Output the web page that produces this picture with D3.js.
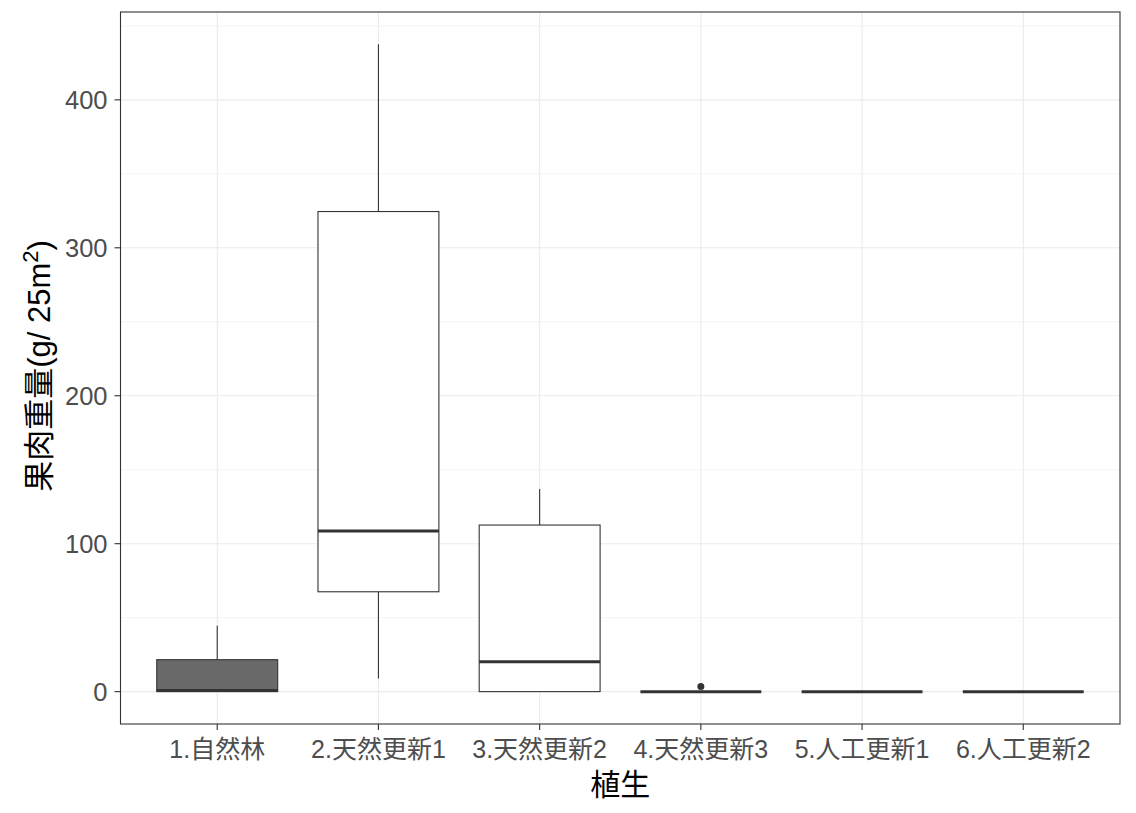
<!DOCTYPE html>
<html><head><meta charset="utf-8">
<script src="https://cdn.jsdelivr.net/npm/d3@7"></script>
<style>
body{margin:0;background:#fff;}
text{font-family:"Liberation Sans","Noto Sans CJK JP",sans-serif;}
</style></head>
<body><svg id="c" width="1136" height="813"></svg>
<script>
const categories = ["1.自然林","2.天然更新1","3.天然更新2","4.天然更新3","5.人工更新1","6.人工更新2"];
const whiskerLow  = [0, 8.8, 0, 0, 0, 0];
const q1          = [0, 67.5, 0, 0, 0, 0];
const median      = [0.7, 108.6, 20.2, 0, 0, 0];
const q3          = [21.6, 324.5, 112.6, 0, 0, 0];
const whiskerHigh = [44.5, 437.5, 137, 0, 0, 0];
const outliers    = [[], [], [], [3.4], [], []];
const fills       = ["#696969","#ffffff","#ffffff","#ffffff","#ffffff","#ffffff"];
const yTicks = [0,100,200,300,400];
const yMinor = [50,150,250,350,450];

const svg = d3.select("#c");
const L=120.5, R=1120, T=12, B=724;
const ymax = d3.max(whiskerHigh), ymin = 0, ex = (ymax-ymin)*0.05;
const y = d3.scaleLinear().domain([ymin-ex, ymax+ex]).range([B,T]);
// discrete scale with 0.6 expansion each side
const x = d3.scalePoint().domain(categories).range([L,R]).padding(0.6/ (categories.length-1+1.2) * (categories.length-1+1.2) );
const step = (R-L)/(categories.length+0.2);
const cx = i => L + step*(0.6 + i);
const bw = step*0.75;

const g = svg.append("g");
g.selectAll(".minor").data(yMinor).join("line")
 .attr("x1",L).attr("x2",R).attr("y1",d=>y(d)).attr("y2",d=>y(d))
 .attr("stroke","#ebebeb").attr("stroke-width",0.55);
g.selectAll(".major").data(yTicks).join("line")
 .attr("x1",L).attr("x2",R).attr("y1",d=>y(d)).attr("y2",d=>y(d))
 .attr("stroke","#ebebeb").attr("stroke-width",1.1);
g.selectAll(".vmajor").data(categories).join("line")
 .attr("x1",(d,i)=>cx(i)).attr("x2",(d,i)=>cx(i)).attr("y1",T).attr("y2",B)
 .attr("stroke","#ebebeb").attr("stroke-width",1.1);

categories.forEach((c,i)=>{
  const xc = cx(i);
  g.append("line").attr("x1",xc).attr("x2",xc).attr("y1",y(q3[i])).attr("y2",y(whiskerHigh[i])).attr("stroke","#333").attr("stroke-width",1.1);
  g.append("line").attr("x1",xc).attr("x2",xc).attr("y1",y(q1[i])).attr("y2",y(whiskerLow[i])).attr("stroke","#333").attr("stroke-width",1.1);
  g.append("rect").attr("x",xc-bw/2).attr("width",bw).attr("y",y(q3[i])).attr("height",Math.max(0,y(q1[i])-y(q3[i])))
   .attr("fill",fills[i]).attr("stroke","#333").attr("stroke-width",1.1);
  g.append("line").attr("x1",xc-bw/2).attr("x2",xc+bw/2).attr("y1",y(median[i])).attr("y2",y(median[i])).attr("stroke","#333").attr("stroke-width",3);
  outliers[i].forEach(o=>{
    g.append("circle").attr("cx",xc).attr("cy",y(o)).attr("r",3.5).attr("fill","#333");
  });
});

svg.append("rect").attr("x",L).attr("y",T).attr("width",R-L).attr("height",B-T).attr("fill","none").attr("stroke","#333").attr("stroke-width",1.1);

const ya = svg.append("g");
yTicks.forEach(t=>{
  ya.append("line").attr("x1",L-6).attr("x2",L).attr("y1",y(t)).attr("y2",y(t)).attr("stroke","#333").attr("stroke-width",1.1);
  ya.append("text").attr("x",L-13).attr("y",y(t)).attr("dy","0.36em").attr("text-anchor","end")
    .attr("font-size",25.5).attr("fill","#4d4d4d").text(t);
});
categories.forEach((c,i)=>{
  svg.append("line").attr("x1",cx(i)).attr("x2",cx(i)).attr("y1",B).attr("y2",B+6).attr("stroke","#333").attr("stroke-width",1.1);
  svg.append("text").attr("x",cx(i)).attr("y",B+34).attr("text-anchor","middle")
    .attr("font-size",25).attr("fill","#4d4d4d").text(c);
});
svg.append("text").attr("x",(L+R)/2).attr("y",795).attr("text-anchor","middle").attr("font-size",30).attr("fill","#000").text("植生");
const yt = svg.append("text").attr("transform",`translate(50,${(T+B)/2 - 2}) rotate(-90)`).attr("text-anchor","middle").attr("font-size",31).attr("fill","#000");
yt.append("tspan").text("果肉重量(g/ 25m");
yt.append("tspan").attr("dy",-12).attr("font-size",22).text("2");
yt.append("tspan").attr("dy",12).text(")");
</script></body></html>
